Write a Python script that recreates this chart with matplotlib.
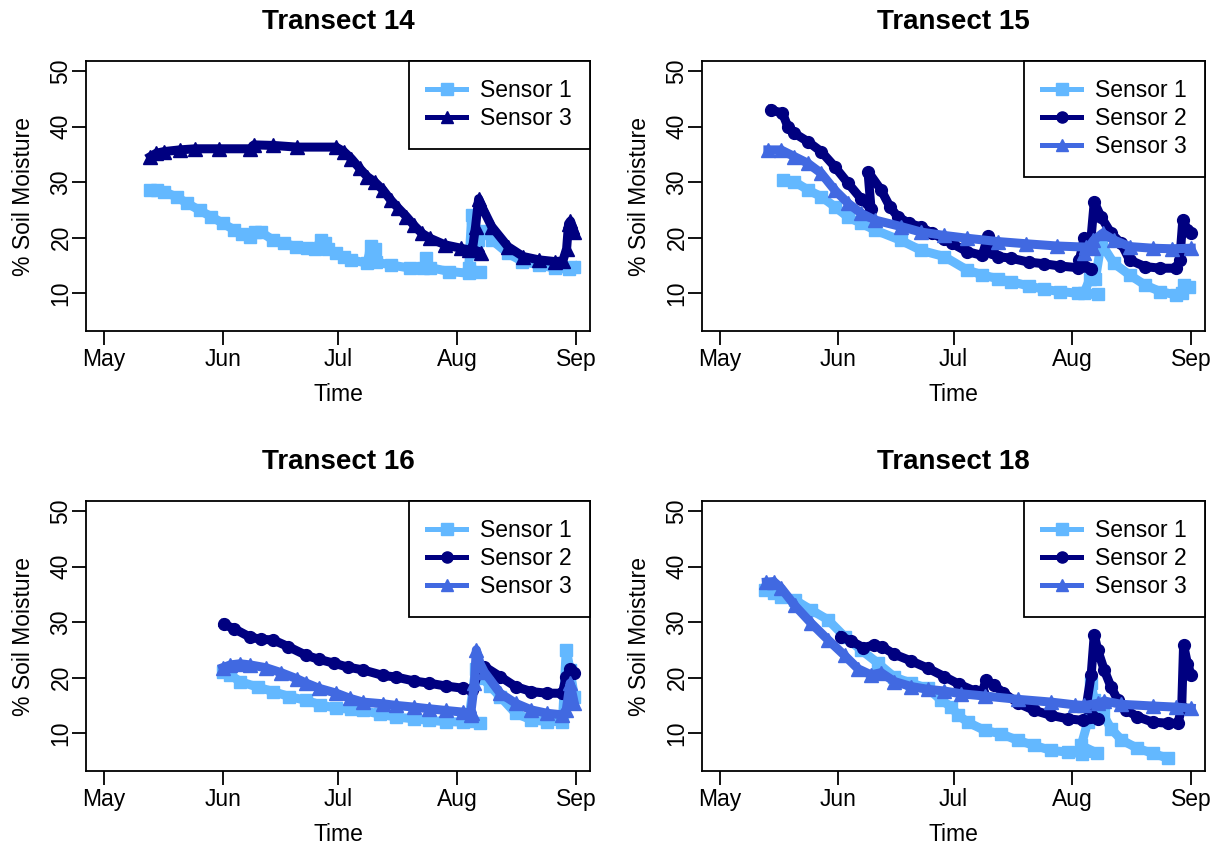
import matplotlib
matplotlib.use("Agg")
import matplotlib.pyplot as plt
import matplotlib.dates as mdates
import numpy as np

plt.rcParams["font.family"] = ["Liberation Sans", "DejaVu Sans"]

START = np.datetime64("2015-05-01T00:00")

LIGHT = "#63B8FF"
NAVY = "#000080"
ROYAL = "#4169E1"

# Readings: days since May 1, and % soil moisture.
# Later records overlap the end of the earlier download, hence the step back in time.
t14_s1_day = [12.2, 14.0, 15.8, 19.0, 21.8, 25.0, 28.0, 31.0, 34.0, 36.0, 38.0, 39.5, 41.0, 44.0,
              47.0, 50.0, 53.0, 55.0, 56.5, 57.5, 58.5, 60.5, 62.5, 64.5, 68.6, 69.5, 70.5, 71.0,
              74.7, 79.8, 83.0, 84.0, 85.0, 90.0, 95.0, 98.0,
              95.0, 95.8, 96.2, 96.8, 97.5, 98.7, 101.0, 105.2, 109.0, 113.3, 117.4, 121.0, 122.5]
t14_s1_val = [28.6, 28.6, 28.3, 27.3, 26.2, 24.9, 23.8, 22.6, 21.4, 20.6, 20.2, 21.0, 21.0, 19.6,
              19.0, 18.4, 18.2, 17.9, 19.5, 19.0, 18.0, 17.2, 16.5, 16.0, 15.4, 18.5, 18.0, 15.6,
              15.1, 14.5, 14.6, 16.3, 14.6, 13.9, 13.6, 13.9,
              14.5, 24.0, 23.5, 17.5, 19.5, 21.2, 19.6, 17.2, 15.7, 15.1, 14.5, 14.3, 14.8]

t14_s3_day = [12.2, 13.7, 15.8, 19.8, 23.9, 30.0, 38.1, 39.1, 44.2, 50.3, 60.5, 62.5, 64.5, 66.6,
              68.6, 70.6, 72.7, 74.7, 76.7, 78.8, 80.8, 82.8, 84.9, 88.9, 93.0, 95.0, 98.1,
              96.0, 96.8, 97.6, 98.5, 101.0, 105.2, 109.2, 113.3, 117.4, 119.5, 120.5, 121.0,
              121.5, 122.0, 122.5]
t14_s3_val = [34.6, 35.2, 35.5, 35.8, 36.0, 36.0, 36.0, 36.7, 36.6, 36.3, 36.3, 35.5, 34.2, 32.5,
              31.0, 30.0, 28.6, 26.8, 25.3, 23.8, 22.2, 20.8, 19.9, 18.7, 18.1, 17.8, 17.3,
              18.0, 22.0, 27.0, 25.5, 22.0, 18.4, 16.6, 16.0, 15.7, 15.8, 18.0, 22.5,
              23.0, 22.0, 21.0]

t15_s1_day = [16.5, 19.5, 23.0, 26.5, 30.0, 33.5, 36.9, 40.4, 47.3, 52.6, 58.6, 64.5, 68.5, 72.6,
              76.0, 80.6, 84.7, 88.7, 93.4, 98.6,
              95.0, 96.5, 98.0, 99.5, 102.8, 106.9, 110.9, 114.9, 119.0, 120.5, 121.0, 122.5]
t15_s1_val = [30.4, 30.1, 28.6, 27.4, 25.6, 23.7, 22.6, 21.4, 19.5, 17.7, 16.6, 14.2, 13.3, 12.6,
              12.1, 11.3, 10.7, 10.3, 10.0, 9.8,
              10.0, 12.5, 12.5, 19.0, 15.4, 13.3, 11.5, 10.3, 9.7, 10.0, 11.5, 11.2]

t15_s2_day = [13.5, 16.4, 17.8, 19.5, 23.0, 26.5, 30.0, 33.5, 36.9, 39.5,
              38.7, 42.1, 44.4, 46.4, 49.4, 52.6, 55.4, 58.6, 60.5, 64.5, 68.5, 70.0, 71.0, 72.6,
              76.0, 80.6, 84.7, 88.7, 93.4, 96.9,
              93.8, 95.1, 96.9, 97.7, 99.5, 102.1, 104.7, 106.9, 110.9, 114.9, 119.0, 120.0,
              120.8, 122.0, 123.0]
t15_s2_val = [43.0, 42.4, 40.0, 38.8, 37.3, 35.5, 32.8, 29.8, 27.0, 25.2,
              31.9, 28.6, 25.6, 23.8, 22.6, 21.9, 20.8, 19.7, 19.0, 17.5, 16.8, 20.3, 17.5, 16.6,
              16.3, 15.6, 15.3, 14.9, 14.6, 14.4,
              15.9, 19.9, 20.2, 26.4, 23.7, 20.8, 19.0, 16.0, 14.8, 14.5, 14.5, 16.0,
              23.2, 21.4, 20.8]

t15_s3_day = [12.6, 16.0, 19.5, 23.0, 26.5, 30.0, 33.5, 36.9, 40.4, 47.3, 52.6, 58.6, 64.5, 72.6,
              80.0, 88.0, 95.5, 97.5,
              95.1, 97.5, 99.9, 102.8, 106.9, 112.9, 118.0, 123.0]
t15_s3_val = [35.8, 35.8, 34.6, 33.4, 31.6, 28.6, 26.2, 24.4, 23.2, 22.0, 21.0, 20.4, 19.9, 19.3,
              18.9, 18.5, 18.3, 18.2,
              17.2, 19.5, 20.8, 19.6, 18.4, 18.1, 18.0, 18.1]

t16_s1_day = [31.0, 33.0, 35.5, 40.1, 44.1, 48.3, 52.8, 56.4, 60.6, 64.5, 67.5, 72.0, 76.2, 80.8,
              84.8, 89.0, 93.5, 98.0,
              95.0, 96.8, 97.5, 98.5, 100.5, 103.2, 107.2, 111.3, 115.3, 119.4, 120.4, 121.4, 122.5]
t16_s1_val = [21.0, 20.5, 19.3, 18.3, 17.5, 16.6, 15.9, 15.1, 14.5, 14.3, 14.1, 13.4, 12.9, 12.6,
              12.3, 12.1, 12.0, 11.9,
              12.2, 21.5, 20.5, 20.0, 18.5, 16.6, 13.6, 12.4, 12.1, 12.1, 25.0, 21.4, 16.6]

t16_s2_day = [31.3, 34.0, 38.1, 41.0, 44.1, 48.0, 52.8, 56.0, 60.0, 63.5, 67.5, 72.7, 76.2, 80.8,
              84.8, 89.0, 93.5, 96.0, 97.8, 99.1, 103.2, 107.2, 111.3, 115.3, 119.4, 120.4, 121.4,
              122.5]
t16_s2_val = [29.6, 28.8, 27.3, 26.9, 26.8, 25.6, 24.0, 23.3, 22.6, 21.9, 21.4, 20.4, 20.1, 19.4,
              19.0, 18.5, 18.1, 17.8, 21.5, 22.0, 20.2, 18.4, 17.5, 17.2, 17.2, 20.2, 21.5,
              20.8]

t16_s3_day = [31.0, 33.0, 35.5, 38.1, 42.2, 46.2, 50.3, 52.8, 56.0, 60.6, 64.0, 67.5, 72.7, 76.2,
              80.8, 84.8, 89.0, 93.5, 96.0,
              95.5, 96.5, 97.0, 98.0, 99.1, 103.2, 107.2, 111.3, 115.3, 119.4, 120.4, 121.4, 122.5]
t16_s3_val = [21.8, 22.3, 22.5, 22.3, 21.8, 20.9, 19.8, 19.0, 18.1, 17.2, 16.3, 15.6, 15.3, 15.0,
              14.7, 14.4, 14.1, 13.8, 13.6,
              13.3, 19.0, 25.0, 22.5, 21.0, 17.2, 15.4, 14.2, 13.6, 13.3, 14.2, 19.0, 15.4]

t18_s1_day = [11.8, 14.1, 16.1, 19.6, 23.9, 28.3, 32.6, 36.9, 41.3, 45.6, 50.0, 54.3, 57.8, 60.4,
              62.1, 64.7, 69.1, 73.4, 77.8, 82.1, 86.5, 90.8, 94.5, 98.5,
              94.3, 96.0, 96.9, 97.7, 99.9, 102.1, 104.8, 108.9, 112.9, 116.9]
t18_s1_val = [35.8, 35.2, 34.6, 34.0, 32.2, 30.4, 27.4, 25.0, 22.6, 20.1, 19.0, 18.1, 15.9, 14.8,
              13.3, 12.0, 10.5, 9.9, 8.7, 7.8, 6.9, 6.6, 6.3, 6.4,
              7.8, 12.0, 19.0, 16.0, 13.5, 10.8, 8.8, 7.3, 6.4, 5.5]

t18_s2_day = [31.7, 34.3, 37.5, 40.3, 42.3, 45.6, 50.0, 54.3, 58.6, 62.5, 66.5, 68.5, 69.5, 71.6,
              74.0, 77.8, 82.1, 86.5, 90.8, 94.8, 98.6,
              95.6, 96.9, 97.7, 98.6, 100.3, 102.1, 103.8, 106.0, 108.9, 112.9, 116.9, 119.5,
              120.5, 121.0, 122.0, 123.0]
t18_s2_val = [27.4, 26.6, 25.4, 25.9, 25.6, 24.2, 23.0, 21.7, 20.2, 18.8, 17.6, 17.5, 19.5, 18.6,
              17.3, 15.4, 14.1, 13.2, 12.6, 12.3, 12.6,
              14.7, 20.5, 27.7, 25.0, 21.4, 18.3, 16.0, 14.2, 13.0, 12.0, 11.8, 11.8,
              14.5, 25.9, 22.5, 20.5]

t18_s3_day = [12.2, 14.1, 16.1, 19.6, 23.9, 28.3, 32.6, 36.1, 39.5, 42.1, 45.6, 50.0, 54.3, 58.6,
              63.0, 69.1, 77.8, 86.5, 92.7, 95.1, 98.8, 100.3, 104.8, 112.9, 119.0, 123.0]
t18_s3_val = [37.2, 37.3, 36.1, 33.0, 29.8, 26.8, 24.0, 21.6, 20.5, 20.9, 19.3, 18.4, 17.9, 17.6,
              17.1, 16.7, 16.1, 15.6, 15.1, 15.0, 15.4, 15.8, 15.2, 14.9, 14.7, 14.5]

y_ticks = [10, 20, 30, 40, 50]


def to_dates(days):
    minutes = np.round(np.asarray(days) * 24 * 60).astype("timedelta64[m]")
    return START + minutes


panels = [
    ("Transect 14", [("Sensor 1", t14_s1_day, t14_s1_val, LIGHT, "s", 8),
                     ("Sensor 3", t14_s3_day, t14_s3_val, NAVY, "^", 9.5)]),
    ("Transect 15", [("Sensor 1", t15_s1_day, t15_s1_val, LIGHT, "s", 8),
                     ("Sensor 2", t15_s2_day, t15_s2_val, NAVY, "o", 8.5),
                     ("Sensor 3", t15_s3_day, t15_s3_val, ROYAL, "^", 9.5)]),
    ("Transect 16", [("Sensor 1", t16_s1_day, t16_s1_val, LIGHT, "s", 8),
                     ("Sensor 2", t16_s2_day, t16_s2_val, NAVY, "o", 8.5),
                     ("Sensor 3", t16_s3_day, t16_s3_val, ROYAL, "^", 9.5)]),
    ("Transect 18", [("Sensor 1", t18_s1_day, t18_s1_val, LIGHT, "s", 8),
                     ("Sensor 2", t18_s2_day, t18_s2_val, NAVY, "o", 8.5),
                     ("Sensor 3", t18_s3_day, t18_s3_val, ROYAL, "^", 9.5)]),
]

W, H = 1215, 848
# plot-region boxes in pixels: left, top, right, bottom
boxes = [(86, 61, 590, 331), (702, 61, 1205, 331),
         (86, 501, 590, 771), (702, 501, 1205, 771)]

fig = plt.figure(figsize=(W / 100, H / 100), dpi=100)

for (title, series), (l, t, r, b) in zip(panels, boxes):
    ax = fig.add_axes([l / W, 1 - b / H, (r - l) / W, (b - t) / H])
    for label, days, vals, color, marker, ms in series:
        ax.plot(to_dates(days), vals, color=color, lw=6.5, marker=marker, ms=ms,
                mec=color, mfc=color, label=label, solid_joinstyle="round")

    ax.set_xlim(START - np.timedelta64(110, "h"),
                np.datetime64("2015-09-01T00:00") + np.timedelta64(86, "h"))
    ax.set_ylim(3.2, 51.8)
    ax.xaxis.set_major_locator(mdates.MonthLocator())
    ax.xaxis.set_major_formatter(mdates.DateFormatter("%b"))
    ax.set_yticks(y_ticks)
    ax.tick_params(axis="both", direction="out", length=10, width=1.3, labelsize=16.5)
    ax.tick_params(axis="x", pad=2)
    ax.tick_params(axis="y", pad=8)
    for lbl in ax.get_yticklabels():
        lbl.set_rotation(90)
        lbl.set_ha("center")
        lbl.set_va("center")
    for sp in ax.spines.values():
        sp.set_linewidth(1.3)

    ax.set_title(title, fontsize=20, fontweight="bold", y=1.146, va="center", pad=0)
    ax.set_xlabel("Time", fontsize=16.5)
    ax.xaxis.label.set_va("center")
    ax.xaxis.set_label_coords(0.5, -0.237)
    ax.set_ylabel("% Soil Moisture", fontsize=16.5)
    ax.yaxis.label.set_va("center")
    ax.yaxis.set_label_coords(-0.124, 0.5)

    leg = ax.legend(loc="upper right", borderaxespad=0, fancybox=False, framealpha=1,
                    edgecolor="black", fontsize=16.5, handlelength=1.7, handletextpad=0.6,
                    borderpad=0.8, labelspacing=0.22)
    leg.get_frame().set_linewidth(1.3)
    for h in leg.get_lines():
        h.set_linewidth(3.6)
        h.set_markersize(8)

fig.savefig("out.png", dpi=100)
